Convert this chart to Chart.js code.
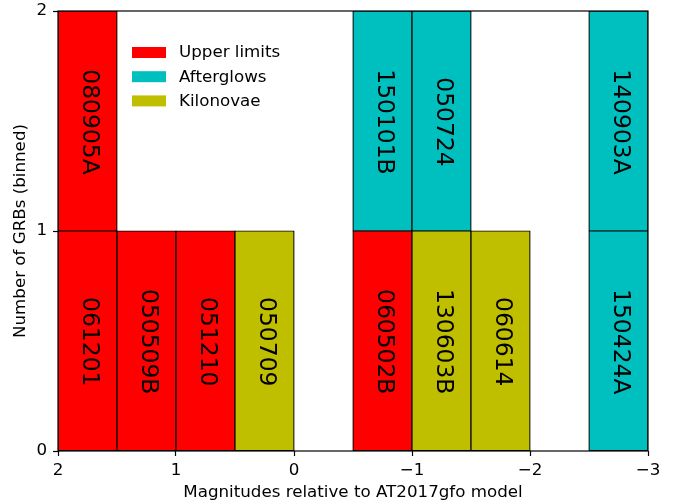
<!DOCTYPE html>
<html>
<head>
<meta charset="utf-8">
<script src="https://cdn.jsdelivr.net/npm/chart.js@4.4.1/dist/chart.umd.min.js"></script>
<style>
  html, body { margin: 0; padding: 0; background: #ffffff; }
  #wrap { width: 675px; height: 504px; }
</style>
</head>
<body>
<div id="wrap"><canvas id="c" width="675" height="504"></canvas></div>
<script>
// ---- data ----
// bin centres (magnitude relative to AT2017gfo model), bins are 0.5 mag wide
const lowerBinCenters = [1.75, 1.25, 0.75, 0.25, -0.75, -1.25, -1.75, -2.75];
const lowerNames = ['061201', '050509B', '051210', '050709', '060502B', '130603B', '060614', '150424A'];
const lowerTypes = ['Upper limits', 'Upper limits', 'Upper limits', 'Kilonovae', 'Upper limits', 'Kilonovae', 'Kilonovae', 'Afterglows'];

const upperBinCenters = [1.75, -0.75, -1.25, -2.75];
const upperNames = ['080905A', '150101B', '050724', '140903A'];
const upperTypes = ['Upper limits', 'Afterglows', 'Afterglows', 'Afterglows'];

const categories = ['Upper limits', 'Afterglows', 'Kilonovae'];
const categoryColors = ['#ff0000', '#00bfbf', '#bfbf00'];

const xTicks = [2, 1, 0, -1, -2, -3];
const yTicks = [0, 1, 2];

const xTitle = 'Magnitudes relative to AT2017gfo model';
const yTitle = 'Number of GRBs (binned)';

// ---- helpers ----
const FONT = 'DejaVu Sans';
const AXFONT = 16.7;
const colorOf = t => categoryColors[categories.indexOf(t)];
const fmtNum = v => (v < 0 ? '\u2212' + Math.abs(v) : String(v));

function layer(centers, level, types, names) {
  return {
    data: centers.map(c => ({ x: c, y: [level, level + 1] })),
    names: names,
    backgroundColor: types.map(colorOf),
    borderColor: '#000000',
    borderWidth: 1.2,
    inflateAmount: 0.6,
    borderSkipped: false,
    grouped: false,
    categoryPercentage: 1,
    barPercentage: 1
  };
}

const labelPlugin = {
  id: 'cellLabels',
  afterDatasetsDraw(chart) {
    const ctx = chart.ctx;
    chart.data.datasets.forEach((ds, di) => {
      const meta = chart.getDatasetMeta(di);
      meta.data.forEach((el, i) => {
        const cx = el.x;
        const cy = (el.y + el.base) / 2;
        ctx.save();
        ctx.translate(cx + 1.5, cy + 1);
        ctx.rotate(Math.PI / 2);
        ctx.font = '23.4px "' + FONT + '"';
        ctx.fillStyle = '#000000';
        ctx.textAlign = 'center';
        ctx.textBaseline = 'middle';
        ctx.fillText(ds.names[i], 0, 0);
        ctx.restore();
      });
    });
    // axes frame
    const a = chart.chartArea;
    ctx.save();
    ctx.strokeStyle = '#000000';
    ctx.lineWidth = 1.2;
    ctx.strokeRect(a.left, a.top, a.right - a.left, a.bottom - a.top);
    ctx.restore();
  }
};

const legendPlugin = {
  id: 'innerLegend',
  afterDraw(chart) {
    const ctx = chart.ctx;
    const a = chart.chartArea;
    const x0 = a.left + 74;
    const y0 = a.top + 41.5;
    const rowH = 24.2;
    ctx.save();
    ctx.font = AXFONT + 'px "' + FONT + '"';
    ctx.textBaseline = 'middle';
    ctx.textAlign = 'left';
    categories.forEach((cat, i) => {
      const yc = y0 + i * rowH;
      ctx.fillStyle = categoryColors[i];
      ctx.fillRect(x0, yc - 5.5, 34, 11);
      ctx.fillStyle = '#000000';
      ctx.fillText(cat, x0 + 47, yc + 0.5);
    });
    ctx.restore();
  }
};

new Chart(document.getElementById('c'), {
  type: 'bar',
  data: {
    datasets: [
      layer(lowerBinCenters, 0, lowerTypes, lowerNames),
      layer(upperBinCenters, 1, upperTypes, upperNames)
    ]
  },
  options: {
    responsive: false,
    maintainAspectRatio: false,
    devicePixelRatio: 1,
    animation: false,
    layout: { padding: { left: 0, top: 11, right: 27, bottom: 0 } },
    plugins: { legend: { display: false }, tooltip: { enabled: false } },
    scales: {
      x: {
        type: 'linear',
        reverse: true,
        min: -3,
        max: 2,
        offset: false,
        afterBuildTicks: s => { s.ticks = xTicks.map(v => ({ value: v })); },
        afterFit: s => { s.height = 53; s.paddingLeft = 0; s.paddingRight = 0; },
        ticks: {
          autoSkip: false,
          maxRotation: 0,
          padding: 5,
          color: '#000000',
          font: { family: FONT, size: AXFONT },
          callback: v => fmtNum(v)
        },
        grid: {
          display: true,
          offset: false,
          drawOnChartArea: false,
          drawTicks: true,
          tickLength: 5,
          tickColor: '#000000',
          tickWidth: 1.2
        },
        border: { display: false },
        title: {
          display: true,
          text: xTitle,
          color: '#000000',
          font: { family: FONT, size: AXFONT },
          padding: { top: 0, bottom: 1 }
        }
      },
      y: {
        type: 'linear',
        min: 0,
        max: 2,
        afterBuildTicks: s => { s.ticks = yTicks.map(v => ({ value: v })); },
        afterFit: s => { s.width = 58; s.paddingTop = 0; s.paddingBottom = 0; },
        ticks: {
          padding: 6,
          color: '#000000',
          font: { family: FONT, size: AXFONT },
          callback: v => fmtNum(v)
        },
        grid: {
          display: true,
          drawOnChartArea: false,
          drawTicks: true,
          tickLength: 5,
          tickColor: '#000000',
          tickWidth: 1.2
        },
        border: { display: false },
        title: {
          display: true,
          text: yTitle,
          color: '#000000',
          font: { family: FONT, size: AXFONT },
          padding: { top: 11, bottom: 0 }
        }
      }
    }
  },
  plugins: [labelPlugin, legendPlugin]
});
</script>
</body>
</html>
